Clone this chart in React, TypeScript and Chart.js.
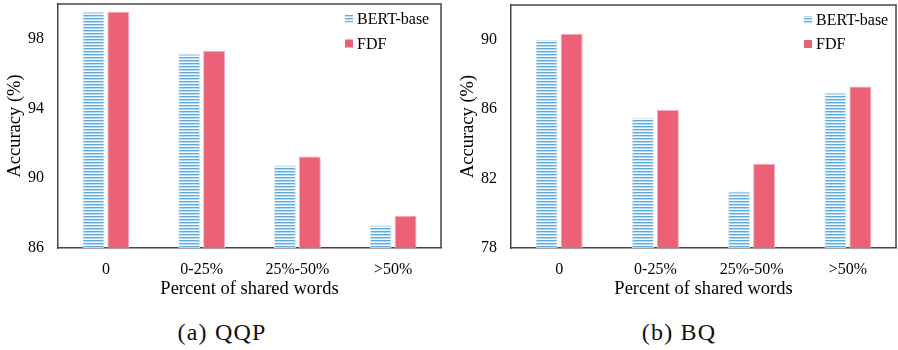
import React, { useEffect, useRef } from 'react';
import { Chart, registerables } from 'chart.js';

Chart.register(...registerables);

const categories = ['0', '0-25%', '25%-50%', '>50%'];
const seriesNames = ['BERT-base', 'FDF'];
const qqpBert = [99.55, 97.15, 90.75, 87.3];
const qqpFdf = [99.56, 97.3, 91.25, 87.85];
const qqpTicks = [86, 90, 94, 98];
const qqpRange = [86, 100];
const bqBert = [90.0, 85.5, 81.25, 86.95];
const bqFdf = [90.35, 85.95, 82.85, 87.3];
const bqTicks = [78, 82, 86, 90];
const bqRange = [78, 92];
const xTitle = 'Percent of shared words';
const yTitle = 'Accuracy (%)';
const captions = ['(a) QQP', '(b) BQ'];

const FONT = "'Liberation Serif', 'Times New Roman', serif";
const FDF_COLOR = '#ec6178';
const AXIS_COLOR = '#454545';
const CANVAS_W = 449;
const CANVAS_H = 305;

function makeStripePattern(): CanvasPattern | string {
  const c = document.createElement('canvas');
  c.width = 4;
  c.height = 3;
  const g = c.getContext('2d');
  if (!g) return '#8cc6ec';
  g.fillStyle = '#5dabe0';
  g.fillRect(0, 0, 4, 1);
  g.fillStyle = '#b4daf3';
  g.fillRect(0, 1, 4, 1);
  g.fillStyle = '#f6fbfe';
  g.fillRect(0, 2, 4, 1);
  const p = g.createPattern(c, 'repeat');
  return p || '#8cc6ec';
}

const framePlugin = {
  id: 'frameBox',
  afterDraw(chart: any) {
    const { ctx, chartArea: a } = chart;
    ctx.save();
    ctx.strokeStyle = AXIS_COLOR;
    ctx.lineWidth = 1.5;
    ctx.beginPath();
    ctx.moveTo(a.left, a.top);
    ctx.lineTo(a.right, a.top);
    ctx.lineTo(a.right, a.bottom);
    ctx.stroke();
    ctx.restore();
  },
};

const innerLegendPlugin = {
  id: 'innerLegend',
  afterDraw(chart: any, _args: any, opts: any) {
    const { ctx, chartArea: a } = chart;
    const boxX = a.right - opts.dx;
    ctx.save();
    chart.data.datasets.forEach((ds: any, i: number) => {
      const cy = a.top + opts.rows[i];
      ctx.fillStyle = ds.backgroundColor;
      ctx.fillRect(boxX, cy - 4, 8, 8);
      ctx.fillStyle = '#000';
      ctx.font = `16px ${FONT}`;
      ctx.textBaseline = 'middle';
      ctx.textAlign = 'left';
      ctx.fillText(ds.label, boxX + 12, cy + 1);
    });
    ctx.restore();
  },
};

type PanelProps = {
  bert: number[];
  fdf: number[];
  ticks: number[];
  range: number[];
  left: number;
  pad: { left: number; right: number; top: number };
  legendDx: number;
  legendRows: number[];
};

function BarPanel(props: PanelProps) {
  const ref = useRef<HTMLCanvasElement | null>(null);
  useEffect(() => {
    if (!ref.current) return;
    const pattern = makeStripePattern();
    const chart = new Chart(ref.current, {
      type: 'bar',
      data: {
        labels: categories,
        datasets: [
          {
            label: seriesNames[0],
            data: props.bert,
            backgroundColor: pattern as any,
            borderColor: '#dce8f1',
            borderWidth: 1,
            categoryPercentage: 0.52,
            barPercentage: 0.88,
          },
          {
            label: seriesNames[1],
            data: props.fdf,
            backgroundColor: FDF_COLOR,
            borderColor: '#f6a9b6',
            borderWidth: 1,
            categoryPercentage: 0.52,
            barPercentage: 0.88,
          },
        ],
      },
      options: {
        responsive: false,
        animation: false,
        devicePixelRatio: 1,
        layout: { padding: { left: props.pad.left, right: props.pad.right, top: props.pad.top, bottom: 0 } },
        plugins: {
          legend: { display: false },
          tooltip: { enabled: false },
          innerLegend: { dx: props.legendDx, rows: props.legendRows },
        } as any,
        scales: {
          x: {
            grid: { display: false, drawTicks: false },
            border: { display: true, color: AXIS_COLOR, width: 1.5 },
            ticks: { color: '#000', font: { family: FONT, size: 16 }, padding: 12, maxRotation: 0 },
            title: {
              display: true,
              text: xTitle,
              color: '#000',
              font: { family: FONT, size: 18.5 },
              padding: { top: 0, bottom: 5 },
            },
            afterFit: (s: any) => {
              s.height = CANVAS_H - 248;
              s.paddingLeft = 0;
              s.paddingRight = 0;
            },
          },
          y: {
            min: props.range[0],
            max: props.range[1],
            grid: { display: false, drawTicks: false },
            border: { display: true, color: AXIS_COLOR, width: 1.5 },
            ticks: { color: '#000', font: { family: FONT, size: 16 }, padding: 14 },
            afterBuildTicks: (s: any) => {
              s.ticks = props.ticks.map((v) => ({ value: v }));
            },
            title: {
              display: true,
              text: yTitle,
              color: '#000',
              font: { family: FONT, size: 18.5 },
              padding: { top: 4, bottom: 0 },
            },
            afterFit: (s: any) => {
              s.width = 58;
              s.paddingTop = 0;
              s.paddingBottom = 0;
            },
          },
        },
      },
      plugins: [framePlugin, innerLegendPlugin],
    });
    return () => chart.destroy();
  }, []);
  return (
    <canvas
      ref={ref}
      width={CANVAS_W}
      height={CANVAS_H}
      style={{ position: 'absolute', left: props.left, top: 0, width: CANVAS_W, height: CANVAS_H }}
    />
  );
}

const captionStyle = (center: number): React.CSSProperties => ({
  position: 'absolute',
  left: center - 100,
  width: 200,
  top: 320,
  lineHeight: '24px',
  fontSize: 24,
  fontFamily: FONT,
  letterSpacing: '1.2px',
  textAlign: 'center',
  color: '#111',
  whiteSpace: 'nowrap',
});

export default function App() {
  return (
    <div style={{ position: 'fixed', left: 0, top: 0, width: 898, height: 350, background: '#fff', overflow: 'hidden' }}>
      <BarPanel
        bert={qqpBert}
        fdf={qqpFdf}
        ticks={qqpTicks}
        range={qqpRange}
        left={0}
        pad={{ left: 0, right: 8, top: 4 }}
        legendDx={96}
        legendRows={[14.5, 39.5]}
      />
      <BarPanel
        bert={bqBert}
        fdf={bqFdf}
        ticks={bqTicks}
        range={bqRange}
        left={449}
        pad={{ left: 4, right: 2, top: 5 }}
        legendDx={92}
        legendRows={[15, 39]}
      />
      <div style={captionStyle(222)}>{captions[0]}</div>
      <div style={captionStyle(679)}>{captions[1]}</div>
    </div>
  );
}
